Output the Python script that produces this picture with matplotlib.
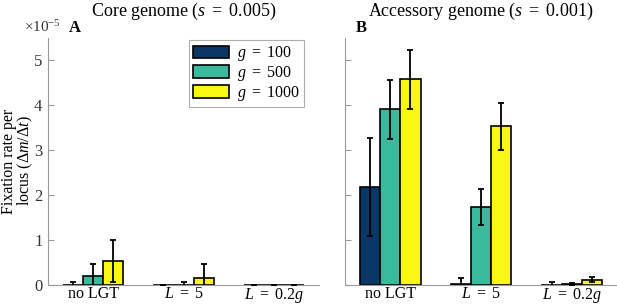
import matplotlib
matplotlib.use("Agg")
import matplotlib.pyplot as plt
import numpy as np
from matplotlib.patches import Patch

plt.rcParams['font.family'] = ['Liberation Serif', 'DejaVu Serif']
plt.rcParams['mathtext.fontset'] = 'custom'
plt.rcParams['mathtext.rm'] = 'Liberation Serif'
plt.rcParams['mathtext.it'] = 'Liberation Serif:italic'
plt.rcParams['mathtext.bf'] = 'Liberation Serif:bold'

categories = ['no LGT', r'$L\ =\ 5$', r'$L\ =\ 0.2g$']
series_labels = [r'$g\ =\ 100$', r'$g\ =\ 500$', r'$g\ =\ 1000$']
colors = ['#0b3767', '#3bb99c', '#f8f814']

# values in units of 1e-5
core_vals = [[0.01, 0.00, 0.00],
             [0.20, 0.01, 0.00],
             [0.53, 0.16, 0.00]]
core_err = [[0.06, 0.00, 0.00],
            [0.27, 0.06, 0.00],
            [0.47, 0.30, 0.00]]
acc_vals = [[2.18, 0.02, 0.01],
            [3.91, 1.74, 0.03],
            [4.58, 3.53, 0.12]]
acc_err = [[1.10, 0.13, 0.05],
           [0.66, 0.40, 0.02],
           [0.66, 0.53, 0.05]]

W, H = 617, 305
fig = plt.figure(figsize=(W / 100, H / 100), dpi=100)
axA = fig.add_axes([48 / W, 1 - 285 / H, 271 / W, 247 / H])
axB = fig.add_axes([345 / W, 1 - 285 / H, 272 / W, 247 / H])

x = np.arange(1, 4)
bw = 0.222
grey = '#9a9a9a'
for ax, vals, errs, title in [(axA, core_vals, core_err, r'Core genome ($s\ =\ 0.005$)'),
                              (axB, acc_vals, acc_err, r'Accessory genome ($s\ =\ 0.001$)')]:
    for i in range(3):
        ax.bar(x + (i - 1) * bw, vals[i], width=bw, color=colors[i],
               edgecolor='black', linewidth=1.2, zorder=2)
        ax.errorbar(x + (i - 1) * bw, vals[i], yerr=errs[i], fmt='none',
                    ecolor='black', elinewidth=1.3, capsize=2.5, capthick=1.3, zorder=3)
    ax.set_xlim(0.5, 3.5)
    ax.set_ylim(0, 5.5)
    ax.set_yticks([0, 1, 2, 3, 4, 5])
    ax.set_xticks(x)
    ax.set_xticklabels(categories, fontsize=11.5)
    ax.tick_params(axis='x', length=0, pad=1)
    ax.tick_params(axis='y', direction='in', length=4, color=grey, labelsize=12,
                   labelcolor='#333333', pad=4)
    for sp in ['top', 'right']:
        ax.spines[sp].set_visible(False)
    for sp in ['left', 'bottom']:
        ax.spines[sp].set_color(grey)
        ax.spines[sp].set_linewidth(0.8)
    ax.set_title(title, fontsize=13, pad=16)

axB.set_yticklabels([])
fig.text(1 / W, 1 - 161 / H, 'Fixation rate per\nlocus ($\\Delta m/\\Delta t$)',
         fontsize=11.5, rotation=90, ha='left', va='center', linespacing=0.9,
         multialignment='center')

fig.text(42 / W, 1 - 27 / H, r'$\times 10^{-5}$', fontsize=11, ha='center', va='center',
         color='#333333')
fig.text(75 / W, 1 - 28 / H, 'A', fontsize=12, fontweight='bold', ha='center', va='center')
fig.text(361 / W, 1 - 28 / H, 'B', fontsize=12, fontweight='bold', ha='center', va='center')

handles = [Patch(facecolor=c, edgecolor='black', linewidth=1.2) for c in colors]
leg = axA.legend(handles, series_labels, loc='upper right', bbox_to_anchor=(0.945, 0.99),
                 fontsize=11.5, frameon=True, fancybox=False, edgecolor=grey,
                 handlelength=2.3, handleheight=0.85, labelspacing=0.05,
                 borderpad=0.25, handletextpad=0.5, borderaxespad=0.0)
leg.get_frame().set_linewidth(0.8)

fig.savefig('out.png', dpi=100)
